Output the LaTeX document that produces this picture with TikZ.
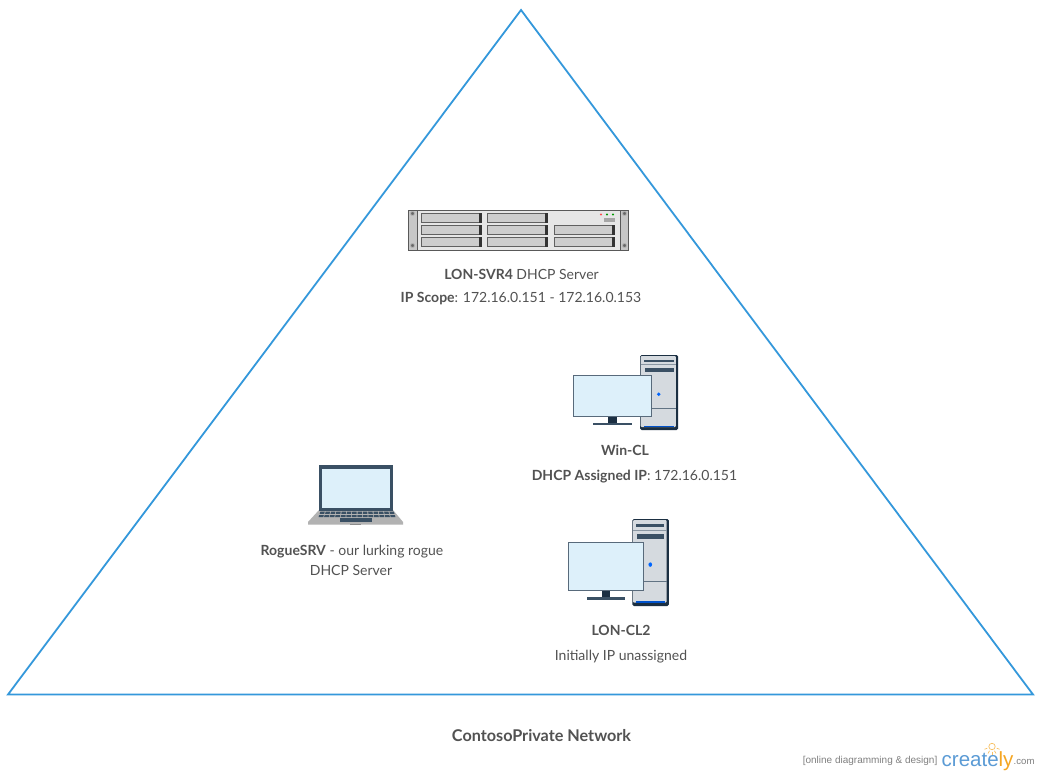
\documentclass[tikz,border=0pt]{standalone}
\usepackage{fontspec}
\setmainfont{Lato}
\newfontfamily\logofont{Liberation Sans}
\definecolor{tri}{HTML}{3498DB}
\definecolor{txt}{HTML}{525252}
\definecolor{navy}{HTML}{1B2F42}
\definecolor{slate}{HTML}{3A5064}
\definecolor{screenb}{HTML}{DDF0FA}
\definecolor{towerg}{HTML}{D5DADF}
\definecolor{rackg}{HTML}{E6E6E6}
\definecolor{bayg}{HTML}{CDCDCD}
\definecolor{baye}{HTML}{606060}
\definecolor{logob}{HTML}{5B9BD5}
\definecolor{logoo}{HTML}{F5A623}
\tikzset{
  x=1pt,y=-1pt,
  label text/.style={text=txt,font=\fontsize{14}{17}\selectfont,inner sep=0pt,align=center,anchor=center},
  bay/.style={draw=baye,line width=1pt,fill=bayg},
  baytab/.style={fill=black!80,draw=none},
  screw/.style={fill=black!60,draw=black!30,line width=.8pt},
}
\newcommand{\rackbay}[2]{%
  \draw[bay] (#1,#2) rectangle ++(59,9);
  \fill[baytab] (#1+58,#2-.5) rectangle ++(3,10);
}
\newcommand{\pcdraw}{%
  % tower
  \fill[navy,rounded corners=1.5pt] (640,355) rectangle (678,430);
  \fill[towerg,rounded corners=1pt] (640.7,356) rectangle (675.8,427);
  \draw[slate!60,line width=.7pt] (640.7,364.5) -- (675.8,364.5);
  \draw[slate!80,line width=.7pt] (640.7,408.5) -- (675.8,408.5);
  \fill[slate] (644,359.5) rectangle (673.5,362);
  \fill[slate] (644.5,367.5) rectangle (673.5,372);
  \fill[blue!60!cyan] (658.7,394.3) ellipse (1.9 and 1.9);
  \fill[blue!60!cyan!80!black] (644,426) rectangle (674,427.2);
  % monitor
  \fill[navy] (608,417) rectangle (617,423);
  \fill[slate] (593,422.5) rectangle (632,425);
  \draw[fill=screenb,draw=slate!85,line width=1pt] (573.5,375.5) rectangle (651.5,416.5);
}
\begin{document}
\begin{tikzpicture}
\useasboundingbox (0,0) rectangle (1040,775);
\fill[white] (0,0) rectangle (1040,775);
\draw[tri,line width=1.8pt,line join=miter] (521,10) -- (1033,694.5) -- (8,694.5) -- cycle;

% server
\draw[fill=rackg,draw=black!65,line width=1pt] (408.5,210.5) rectangle (628.5,250.5);
\draw[fill=black!22,draw=black!65,line width=1pt] (408.5,210.5) rectangle (417,250.5);
\draw[fill=black!22,draw=black!65,line width=1pt] (620,210.5) rectangle (628.5,250.5);
\foreach \px in {412.5,624.5} \foreach \py in {213.5,245.5} \fill[screw] (\px,\py) circle (2);
\rackbay{421}{213.5}\rackbay{487}{213.5}
\rackbay{421}{225.5}\rackbay{487}{225.5}\rackbay{554}{225.5}
\rackbay{421}{237.5}\rackbay{487}{237.5}\rackbay{554}{237.5}
\fill[red!70!white] (601,214.5) circle (1.2);
\fill[green!60!black] (607,214.5) circle (1.2);
\fill[green!60!black] (613,214.5) circle (1.2);
\fill[black!35] (604,218.5) rectangle (615,222);
\node[label text] (lonsvr) at (521.5,274) {\textbf{LON-SVR4} DHCP Server};
\node[label text] (scope) at (521,299) {\textbf{IP Scope}: 172.16.0.151 - 172.16.0.153};

% Win-CL
\pcdraw
\node[label text] (wincl) at (625,450.5) {\textbf{Win-CL}};
\node[label text] (assigned) at (634.5,477) {\textbf{DHCP Assigned IP}: 172.16.0.151};

% LON-CL2
\begin{scope}[shift={(568,519)},xscale=.96,yscale=1.16,shift={(-573,-355)}]
\pcdraw
\end{scope}
\node[label text] (loncl) at (621,630.5) {\textbf{LON-CL2}};
\node[label text] (unassigned) at (621,657) {Initially IP unassigned};

% laptop
\fill[black!30] (319,510) -- (393,510) -- (403,522) -- (403,524.5) -- (308,524.5) -- (308,522) -- cycle;
\fill[slate] (319,465) rectangle (393,511);
\fill[screenb] (321.5,469) rectangle (390,507.5);
\foreach \kx in {0,1,...,13} {
  \fill[slate] ({320.5+\kx*5.3},511.5) -- ({324.8+\kx*5.3},511.5) -- ({324.3+\kx*5.55-1},517) -- ({319.5+\kx*5.55-1},517) -- cycle;
}
\draw[white!70!black,line width=.5pt] (316,514) -- (396,514);
\fill[slate] (340,518) rectangle (372,522);
\fill[black!45] (350,523.5) rectangle (361,524.5);
\node[label text] (rogue1) at (352,552) {\textbf{RogueSRV} - our lurking rogue};
\node[label text] (rogue2) at (351,570.5) {DHCP Server};

% footer
\node[label text,font=\fontsize{16.2}{19}\selectfont\bfseries] (net) at (541.5,735.5) {ContosoPrivate Network};

% creately mark
\node[inner sep=0pt,anchor=east,text=black!50,font=\logofont\fontsize{10}{11}\selectfont] (tag) at (937.5,760.5) {[online diagramming \& design]};
\node[inner sep=0pt,anchor=base west,text=logob,font=\logofont\fontsize{20.5}{24}\selectfont] (logo) at (941.5,766) {create\textcolor{logoo}{ly}};
\node[inner sep=0pt,anchor=base west,text=black!50,font=\logofont\fontsize{9.6}{11}\selectfont] (com) at (1013.5,764.5) {.com};
\draw[logoo!70,line width=.7pt] (992,746.5) circle (3.2);
\foreach \a in {20,60,90,120,160} \draw[logoo!70,line width=.7pt] (992,746.5) ++({\a}:5) -- ++({\a}:3);
\end{tikzpicture}
\end{document}
